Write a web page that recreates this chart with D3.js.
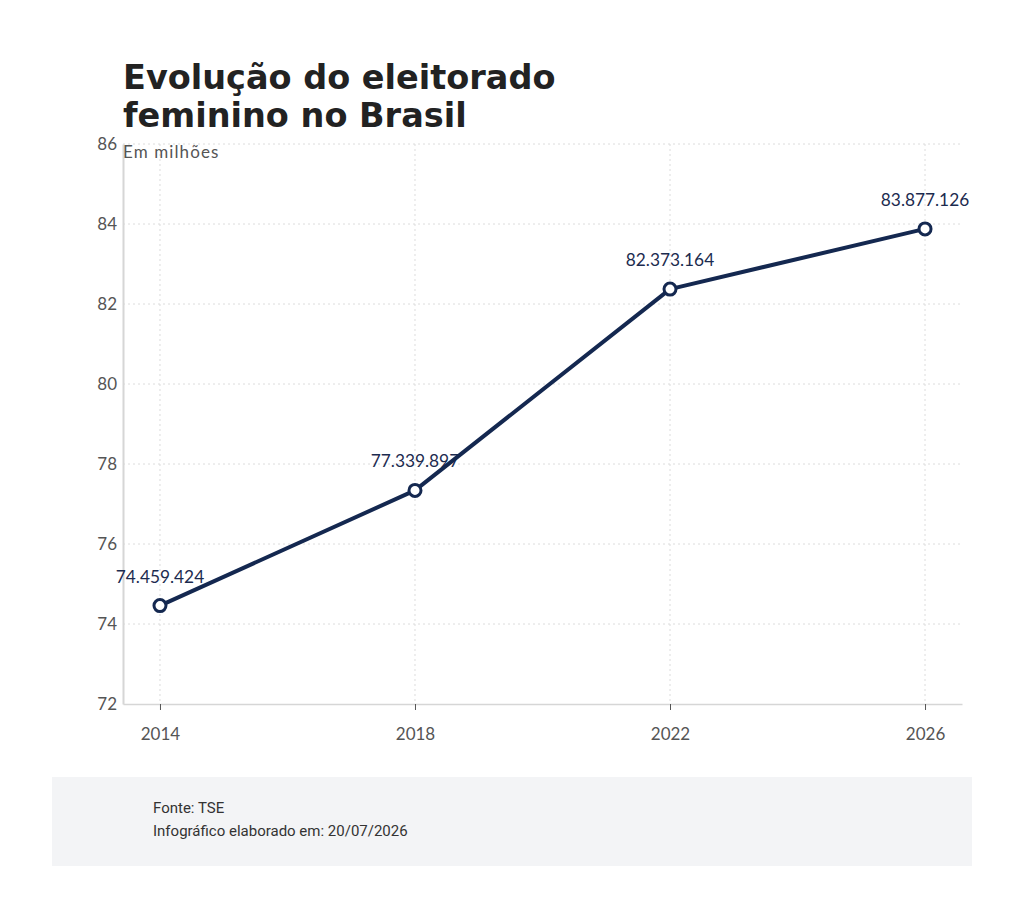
<!DOCTYPE html>
<html>
<head>
<meta charset="utf-8">
<script src="https://cdn.jsdelivr.net/npm/d3@7"></script>
<style>
  body { margin: 0; background: #fff; }
  svg { display: block; }
</style>
</head>
<body>
<svg id="chart" width="1024" height="903"></svg>
<script>
var years = ["2014", "2018", "2022", "2026"];
var voters = [74459424, 77339897, 82373164, 83877126];
var yTicks = [72, 74, 76, 78, 80, 82, 84, 86];
var titleLines = ["Evolução do eleitorado", "feminino no Brasil"];
var footerLines = ["Fonte: TSE", "Infográfico elaborado em: 20/07/2026"];

var svg = d3.select("#chart"),
    margin = {top: 144, right: 62, bottom: 199, left: 123},
    width = 1024 - margin.left - margin.right,
    height = 903 - margin.top - margin.bottom;

var data = years.map(function(y, i) { return {year: y, value: voters[i] / 1e6, raw: voters[i]}; });

var x = d3.scalePoint().domain(years).range([0, width]).padding(0.145);
var y = d3.scaleLinear().domain([72, 86]).range([height, 0]);

var fmt = d3.formatLocale({decimal: ",", thousands: ".", grouping: [3], currency: ["R$", ""]}).format(",d");

/* Title */
svg.append("g").selectAll("text")
  .data(titleLines).enter().append("text")
  .attr("x", 123)
  .attr("y", function(d, i) { return 89 + i * 38; })
  .attr("font-family", "DejaVu Sans")
  .attr("font-weight", "bold")
  .attr("font-size", 33.5)
  .attr("fill", "#222")
  .text(function(d) { return d; });

var g = svg.append("g").attr("transform", "translate(" + margin.left + "," + margin.top + ")");

/* Grid */
g.append("g").selectAll("line")
  .data(yTicks.slice(1)).enter().append("line")
  .attr("x1", 0).attr("x2", width)
  .attr("y1", function(d) { return y(d); }).attr("y2", function(d) { return y(d); })
  .attr("stroke", "#dcdcdc").attr("stroke-width", 1).attr("stroke-dasharray", "2,3");

g.append("g").selectAll("line")
  .data(years).enter().append("line")
  .attr("x1", function(d) { return x(d); }).attr("x2", function(d) { return x(d); })
  .attr("y1", 0).attr("y2", height)
  .attr("stroke", "#dcdcdc").attr("stroke-width", 1).attr("stroke-dasharray", "2,3");

/* Axes */
var yAxis = g.append("g")
  .call(d3.axisLeft(y).tickValues(yTicks).tickSize(0).tickPadding(6));
yAxis.select(".domain").attr("stroke", "#d6d6d6").attr("stroke-width", 2);
yAxis.selectAll("text")
  .attr("font-family", "Lato").attr("font-size", 17).attr("fill", "#555");

var xAxis = g.append("g")
  .attr("transform", "translate(0," + height + ")")
  .call(d3.axisBottom(x).tickSize(6).tickSizeOuter(0).tickPadding(18));
xAxis.select(".domain").attr("stroke", "#d6d6d6").attr("stroke-width", 1.5);
xAxis.selectAll(".tick line").attr("stroke", "#555");
xAxis.selectAll("text")
  .attr("font-family", "Lato").attr("font-size", 17).attr("fill", "#555");

g.append("text")
  .attr("x", 0).attr("y", 14)
  .attr("font-family", "Lato").attr("font-size", 17).attr("letter-spacing", 1.1)
  .attr("fill", "#555")
  .text("Em milhões");

/* Value labels (under the line) */
g.append("g").selectAll("text")
  .data(data).enter().append("text")
  .attr("x", function(d) { return x(d.year); })
  .attr("y", function(d) { return y(d.value) - 23; })
  .attr("text-anchor", "middle")
  .attr("font-family", "Lato").attr("font-size", 17.3).attr("fill", "#1c2b4f")
  .text(function(d) { return fmt(d.raw); });

/* Line */
var line = d3.line()
  .x(function(d) { return x(d.year); })
  .y(function(d) { return y(d.value); });

g.append("path")
  .datum(data)
  .attr("d", line)
  .attr("fill", "none")
  .attr("stroke", "#142850")
  .attr("stroke-width", 4)
  .attr("stroke-linejoin", "round");

g.append("g").selectAll("circle")
  .data(data).enter().append("circle")
  .attr("cx", function(d) { return x(d.year); })
  .attr("cy", function(d) { return y(d.value); })
  .attr("r", 6)
  .attr("fill", "#fff")
  .attr("stroke", "#142850")
  .attr("stroke-width", 3);

/* Footer */
svg.append("rect")
  .attr("x", 52).attr("y", 777).attr("width", 920).attr("height", 89)
  .attr("fill", "#f3f4f6");

svg.append("g").selectAll("text")
  .data(footerLines).enter().append("text")
  .attr("x", 153)
  .attr("y", function(d, i) { return 813 + i * 23; })
  .attr("font-family", "Roboto").attr("font-size", 15).attr("fill", "#333")
  .text(function(d) { return d; });
</script>
</body>
</html>
